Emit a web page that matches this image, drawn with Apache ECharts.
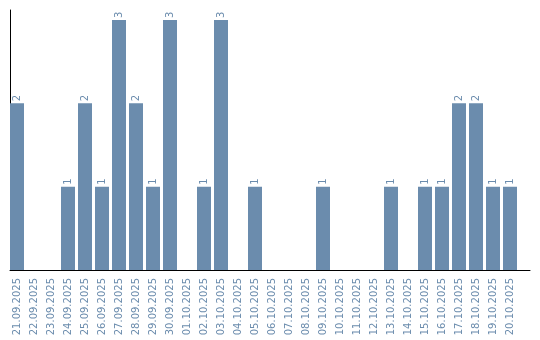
<!DOCTYPE html>
<html>
<head>
<meta charset="utf-8">
<script src="https://cdn.jsdelivr.net/npm/echarts@6/dist/echarts.min.js"></script>
<style>html,body{margin:0;padding:0;background:#fff}#c{width:540px;height:340px}</style>
</head>
<body>
<div id="c"></div>
<script>
const categories = ["21.09.2025","22.09.2025","23.09.2025","24.09.2025","25.09.2025","26.09.2025","27.09.2025","28.09.2025","29.09.2025","30.09.2025","01.10.2025","02.10.2025","03.10.2025","04.10.2025","05.10.2025","06.10.2025","07.10.2025","08.10.2025","09.10.2025","10.10.2025","11.10.2025","12.10.2025","13.10.2025","14.10.2025","15.10.2025","16.10.2025","17.10.2025","18.10.2025","19.10.2025","20.10.2025"];
const values = [2,0,0,1,2,1,3,2,1,3,0,1,3,0,1,0,0,0,1,0,0,0,1,0,1,1,2,2,1,1];

const color = '#6b8cad';
const chart = echarts.init(document.getElementById('c'), null, {renderer: 'canvas'});
chart.setOption({
  animation: false,
  textStyle: {fontFamily: 'DejaVu Sans'},
  grid: [
    {left: 8.5, top: 10, width: 510, height: 260},
    {left: 10, top: 10, width: 520, height: 260}
  ],
  xAxis: [
    {
      gridIndex: 0, type: 'category', data: categories,
      axisLine: {show: false}, axisTick: {show: false},
      axisLabel: {rotate: 90, interval: 0, color: color, fontSize: 10, fontFamily: 'DejaVu Sans', margin: 8}
    },
    {
      gridIndex: 1, type: 'value', min: 0, max: 1,
      axisLine: {show: true, lineStyle: {color: '#000', width: 1}},
      axisTick: {show: false}, axisLabel: {show: false}, splitLine: {show: false}
    }
  ],
  yAxis: [
    {
      gridIndex: 0, type: 'value', min: 0, max: 3.12,
      axisLine: {show: false}, axisTick: {show: false}, axisLabel: {show: false}, splitLine: {show: false}
    },
    {
      gridIndex: 1, type: 'value', min: 0, max: 1,
      axisLine: {show: true, lineStyle: {color: '#000', width: 1}},
      axisTick: {show: false}, axisLabel: {show: false}, splitLine: {show: false}
    }
  ],
  series: [{
    type: 'bar', xAxisIndex: 0, yAxisIndex: 0,
    data: values.map(v => v === 0 ? {value: 0, label: {show: false}} : v),
    barWidth: 14,
    itemStyle: {color: color},
    label: {
      show: true, position: 'top', rotate: 90, distance: 2,
      align: 'left', verticalAlign: 'middle',
      color: color, fontSize: 10, fontFamily: 'DejaVu Sans'
    }
  }]
});
</script>
</body>
</html>
